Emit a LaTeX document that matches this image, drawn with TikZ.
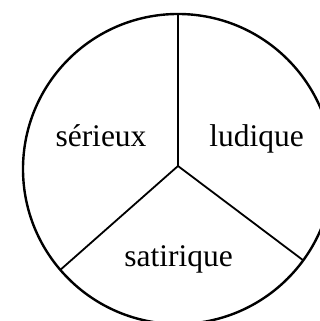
\documentclass[tikz,border=0pt]{standalone}
\usepackage{fontspec}
\setmainfont{Liberation Serif}
\usetikzlibrary{calc}

\begin{document}
\begin{tikzpicture}[x=1pt,y=1pt]
  \useasboundingbox (0,0) rectangle (320,321);
  \clip (0,0) rectangle (320,321);
  \coordinate (c) at (178,152);
  \coordinate (h) at (178,155);
  \coordinate (s0) at ($(c)+(90:155pt)$);
  \coordinate (s1) at ($(c)+(220.6:155pt)$);
  \coordinate (s2) at ($(c)+(-36.1:155pt)$);
  \draw[line width=2.4pt] (c) circle[radius=155pt];
  \foreach \p in {s0,s1,s2}{
    \draw[line width=1.8pt] (h)--(\p);
  }
  \node[anchor=base,font=\fontsize{31.5}{36}\selectfont] (serieux) at (101,174) {sérieux};
  \node[anchor=base,font=\fontsize{31.5}{36}\selectfont] (ludique) at (256.5,174) {ludique};
  \node[anchor=base,font=\fontsize{31.5}{36}\selectfont] (satirique) at (178.7,54) {satirique};
\end{tikzpicture}
\end{document}
